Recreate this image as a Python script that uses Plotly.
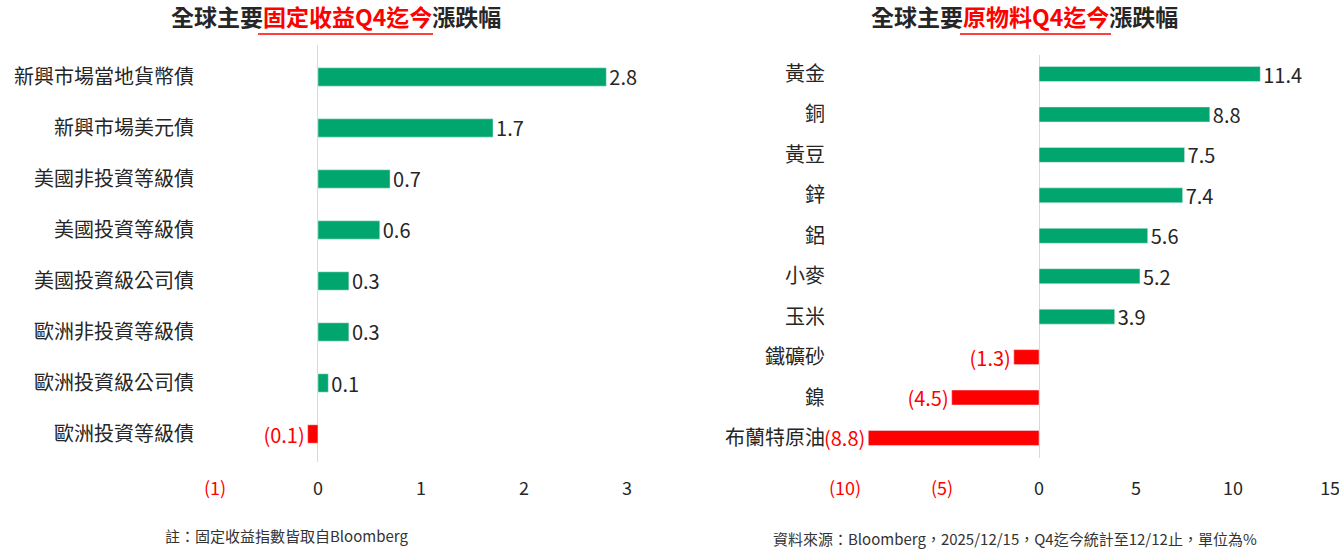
import plotly.graph_objects as go

# ---- data ----
fi_categories = ["新興市場當地貨幣債", "新興市場美元債", "美國非投資等級債", "美國投資等級債",
                 "美國投資級公司債", "歐洲非投資等級債", "歐洲投資級公司債", "歐洲投資等級債"]
fi_values = [2.8, 1.7, 0.7, 0.6, 0.3, 0.3, 0.1, -0.1]
fi_tickvals = [-1, 0, 1, 2, 3]

cm_categories = ["黃金", "銅", "黃豆", "鋅", "鋁", "小麥", "玉米", "鐵礦砂", "鎳", "布蘭特原油"]
cm_values = [11.4, 8.8, 7.5, 7.4, 5.6, 5.2, 3.9, -1.3, -4.5, -8.8]
cm_tickvals = [-10, -5, 0, 5, 10, 15]

GREEN = "#00A66E"
RED = "#FF0000"
DARK = "#262626"
FONT = "Noto Sans CJK TC"
W, H = 1339, 549


def fmt(v):
    return f"({abs(v):.1f})" if v < 0 else f"{v:.1f}"


def fmt_tick(v):
    if v < 0:
        return f"<span style='color:{RED}'>({abs(v):g})</span>"
    return f"{v:g}"


def px_x(p):
    return p / W


def px_y(p):
    return (H - p) / H


fig = go.Figure()

fig.add_trace(go.Bar(
    x=fi_values, y=list(range(len(fi_categories))), orientation="h",
    marker_color=[GREEN if v >= 0 else RED for v in fi_values],
    width=0.36,
    text=[fmt(v) for v in fi_values], textposition="outside", constraintext="none",
    outsidetextfont=dict(family=FONT, size=20, color=[DARK if v >= 0 else RED for v in fi_values]),
    cliponaxis=False, hoverinfo="skip",
    xaxis="x", yaxis="y",
))

fig.add_trace(go.Bar(
    x=cm_values, y=list(range(len(cm_categories))), orientation="h",
    marker_color=[GREEN if v >= 0 else RED for v in cm_values],
    width=0.37,
    text=[fmt(v) for v in cm_values], textposition="outside", constraintext="none",
    outsidetextfont=dict(family=FONT, size=20, color=[DARK if v >= 0 else RED for v in cm_values]),
    cliponaxis=False, hoverinfo="skip",
    xaxis="x2", yaxis="y2",
))

axis_common = dict(showgrid=False, showline=False, ticks="", fixedrange=True)

fig.update_layout(
    width=W, height=H,
    margin=dict(l=0, r=0, t=0, b=0, autoexpand=False),
    paper_bgcolor="white", plot_bgcolor="white",
    showlegend=False,
    font=dict(family=FONT, color=DARK),
    xaxis=dict(domain=[px_x(215), px_x(627)], range=[-1, 3.001], anchor="y",
               tickvals=fi_tickvals, ticktext=[fmt_tick(v) for v in fi_tickvals],
               tickfont=dict(family=FONT, size=18, color=DARK),
               zeroline=True, zerolinecolor="#d9d9d9", zerolinewidth=1,
               ticklabelstandoff=14, ticklabeloverflow="allow", **axis_common),
    yaxis=dict(domain=[px_y(462), px_y(45)], range=[7.549, -0.627], anchor="x",
               tickvals=list(range(len(fi_categories))), ticktext=fi_categories,
               tickfont=dict(family=FONT, size=20, color=DARK),
               zeroline=False, ticklabelstandoff=20, **axis_common),
    xaxis2=dict(domain=[px_x(845), px_x(1330.5)], range=[-10, 15.02], anchor="y2",
                tickvals=cm_tickvals, ticktext=[fmt_tick(v) for v in cm_tickvals],
                tickfont=dict(family=FONT, size=18, color=DARK),
                zeroline=True, zerolinecolor="#d9d9d9", zerolinewidth=1,
                ticklabelstandoff=18, ticklabeloverflow="allow", **axis_common),
    yaxis2=dict(domain=[px_y(458), px_y(55)], range=[9.495, -0.47], anchor="x2",
                tickvals=list(range(len(cm_categories))), ticktext=cm_categories,
                tickfont=dict(family=FONT, size=20, color=DARK),
                zeroline=False, ticklabelstandoff=19, **axis_common),
)

title_font = dict(family=FONT, size=23, color=DARK)
fig.add_annotation(
    x=px_x(336), y=px_y(16), xref="paper", yref="paper", showarrow=False,
    text=f"<b>全球主要<span style='color:{RED}'>固定收益Q4迄今</span>漲跌幅</b>",
    font=title_font, xanchor="center", yanchor="middle")
fig.add_annotation(
    x=px_x(1024), y=px_y(16), xref="paper", yref="paper", showarrow=False,
    text=f"<b>全球主要<span style='color:{RED}'>原物料Q4迄今</span>漲跌幅</b>",
    font=title_font, xanchor="center", yanchor="middle")

fig.add_shape(type="line", xref="paper", yref="paper",
              x0=px_x(258), x1=px_x(433), y0=px_y(34), y1=px_y(34),
              line=dict(color=RED, width=1.5))
fig.add_shape(type="line", xref="paper", yref="paper",
              x0=px_x(960), x1=px_x(1111), y0=px_y(34), y1=px_y(34),
              line=dict(color=RED, width=1.5))

note_font = dict(family=FONT, size=15, color="#333333")
fig.add_annotation(
    x=px_x(286), y=px_y(535), xref="paper", yref="paper", showarrow=False,
    text="註：固定收益指數皆取自Bloomberg", font=note_font,
    xanchor="center", yanchor="middle")
fig.add_annotation(
    x=px_x(1015), y=px_y(538), xref="paper", yref="paper", showarrow=False,
    text="資料來源：Bloomberg，2025/12/15，Q4迄今統計至12/12止，單位為%", font=note_font,
    xanchor="center", yanchor="middle")

fig.write_html("out.html", config={"displayModeBar": False},
               post_script="document.body.style.margin='0';document.body.style.overflow='hidden';")
